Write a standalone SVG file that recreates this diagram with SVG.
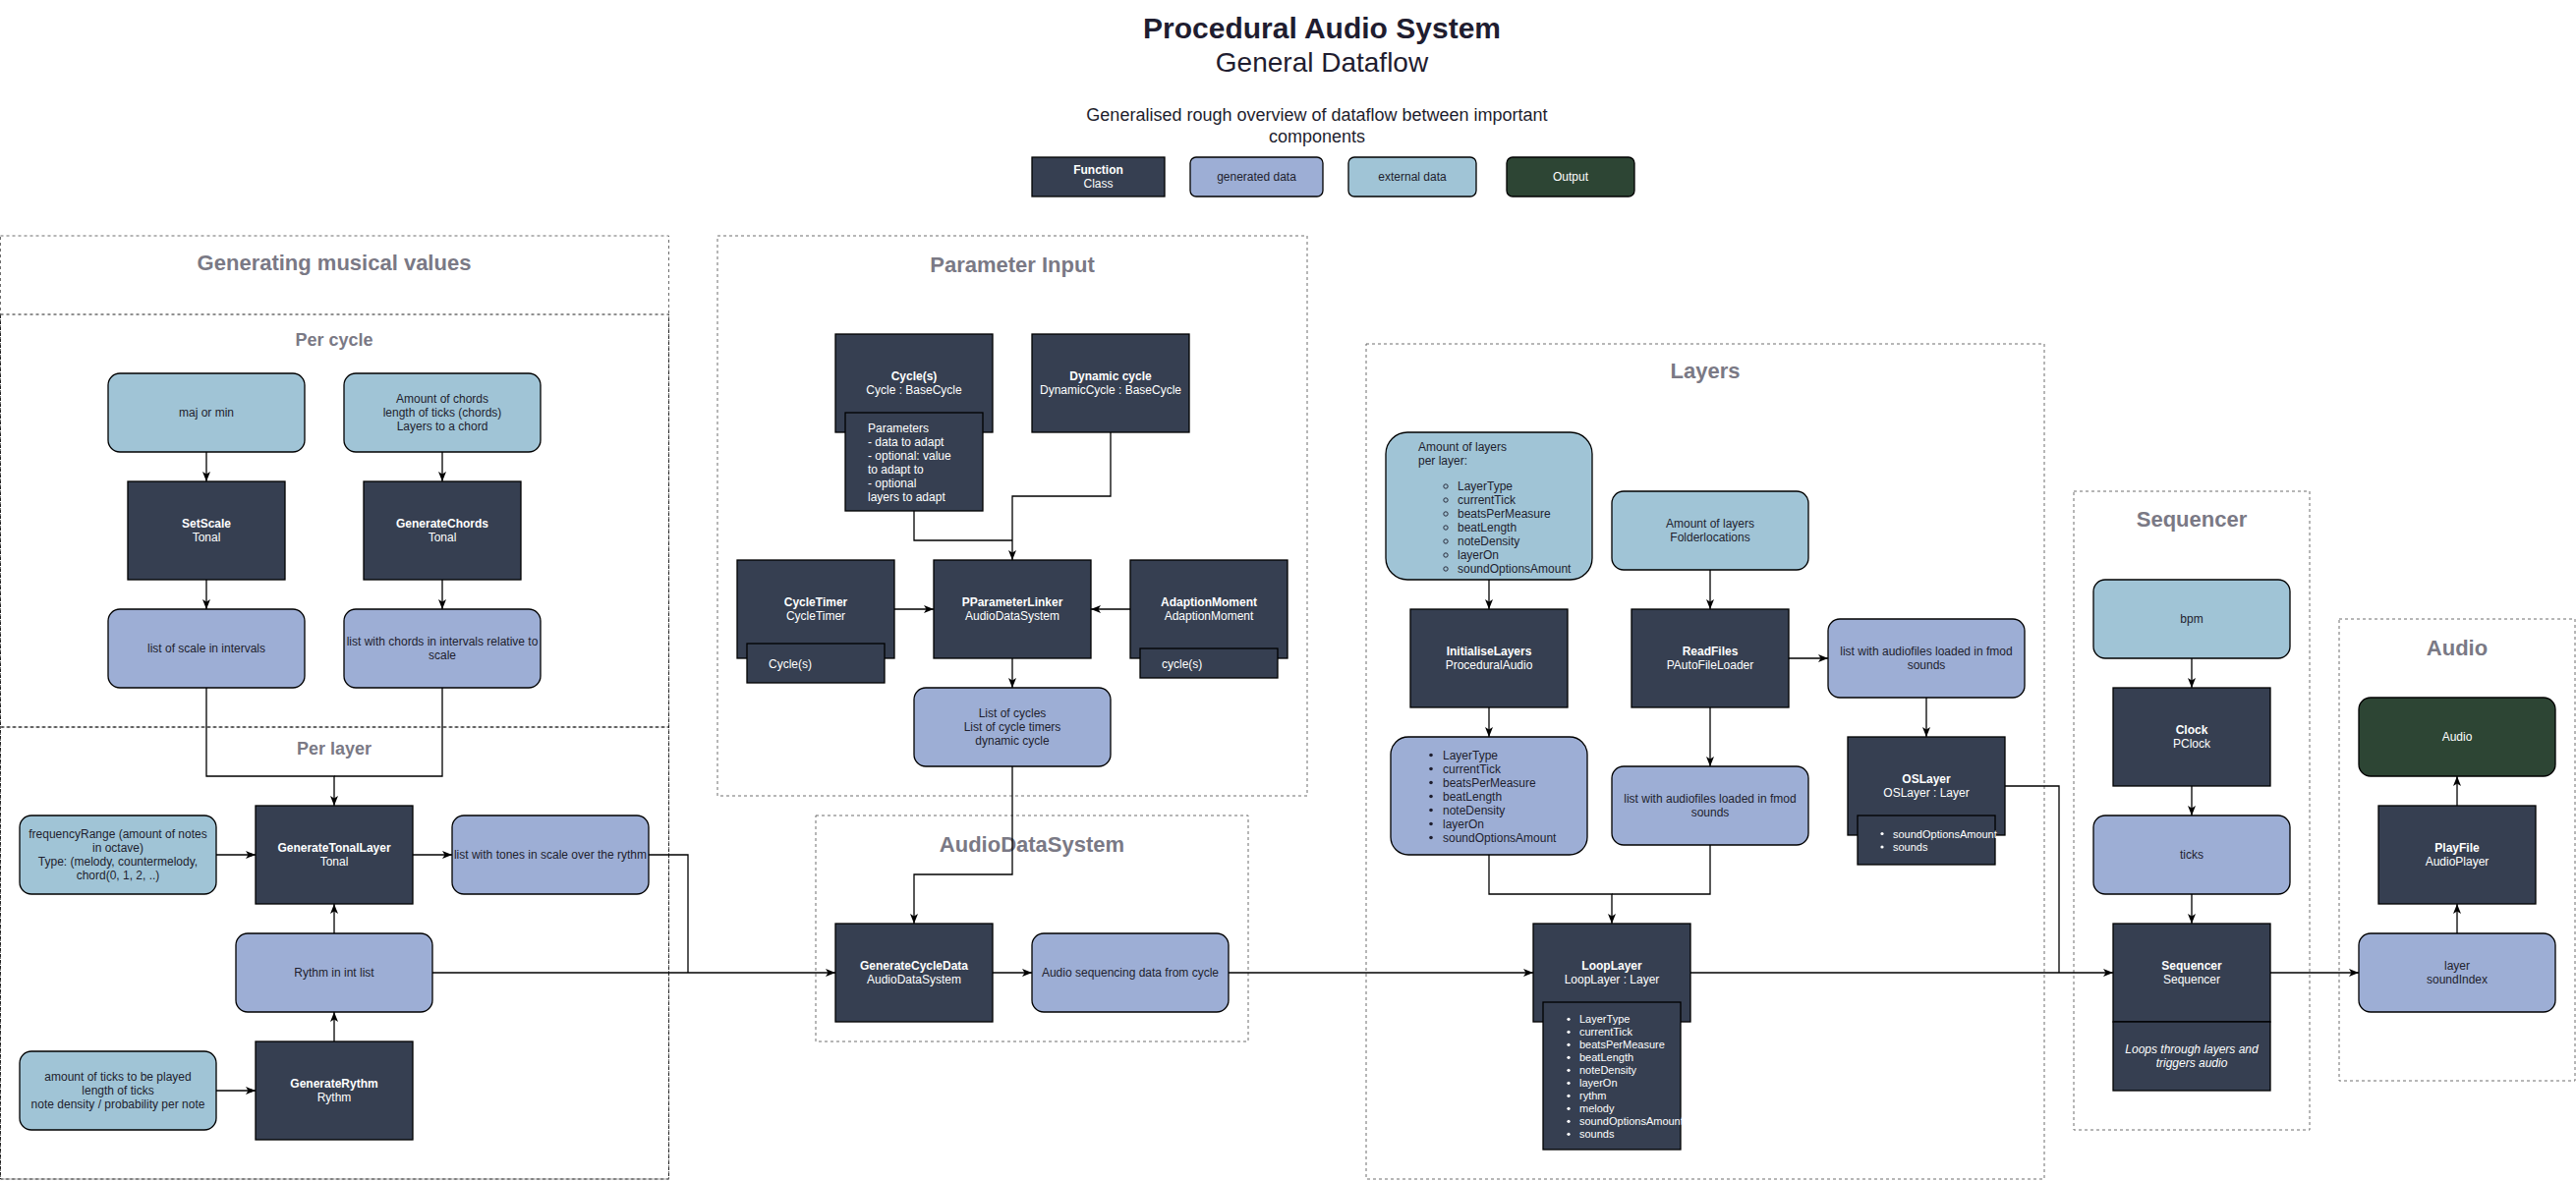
<svg xmlns="http://www.w3.org/2000/svg" width="2621" height="1202" viewBox="0 0 2621 1202">
<style>
text{font-family:"Liberation Sans",Arial,Helvetica,sans-serif;font-size:12px;fill:#1e1e2e}
.c{text-anchor:middle}
.b{font-weight:bold}
.w{fill:#fff}
.fn{fill:#363f51;stroke:#000;stroke-width:1.3}
.gen{fill:#9daed5;stroke:#000;stroke-width:1.3}
.ext{fill:#a0c4d6;stroke:#000;stroke-width:1.3}
.out{fill:#2d4534;stroke:#000;stroke-width:1.3}
.sec{fill:none;stroke:#6e6e6e;stroke-width:1;stroke-dasharray:3 3}
.sec2{fill:none;stroke:#222;stroke-width:1;stroke-dasharray:3 3}
.st{font-size:22px;font-weight:bold;fill:#7a7985;text-anchor:middle}
.st2{font-size:18px;font-weight:bold;fill:#7a7985;text-anchor:middle}
.edge{fill:none;stroke:#000;stroke-width:1.3}
.arr{marker-end:url(#ah)}
.s11{font-size:11px}
.it{font-style:italic}
</style>
<defs>
<marker id="ah" markerUnits="userSpaceOnUse" markerWidth="10" markerHeight="10" viewBox="0 0 10 10" refX="10" refY="5" orient="auto">
<path d="M0,1 L10,5 L0,9 L2.5,5 z" fill="#000"/>
</marker>
</defs>
<rect width="2621" height="1202" fill="#fff"/>

<g id="header">
<text x="1345" y="39" class="c b" style="font-size:30px;fill:#1f1d30">Procedural Audio System</text>
<text x="1345" y="73" class="c" style="font-size:28px;fill:#1f1d30">General Dataflow</text>
<text x="1340" y="123" class="c" style="font-size:18px">Generalised rough overview of dataflow between important</text>
<text x="1340" y="145" class="c" style="font-size:18px">components</text>
</g>

<g id="legend">
<g id="legend-function"><rect x="1050" y="160" width="135" height="40" class="fn"/><text x="1117.5" y="177" class="c b w">Function</text><text x="1117.5" y="191" class="c w">Class</text></g>
<g id="legend-generated"><rect x="1211" y="160" width="135" height="40" rx="6" class="gen"/><text x="1278.5" y="184" class="c">generated data</text></g>
<g id="legend-external"><rect x="1372" y="160" width="130" height="40" rx="6" class="ext"/><text x="1437" y="184" class="c">external data</text></g>
<g id="legend-output"><rect x="1533" y="160" width="130" height="40" rx="6" class="out"/><text x="1598" y="184" class="c w">Output</text></g>
</g>

<g id="sections">
<rect x="0.5" y="240" width="680" height="960" class="sec"/>
<text x="340" y="275" class="st">Generating musical values</text>
<rect x="0.5" y="320" width="680" height="420" class="sec2"/>
<text x="340" y="352" class="st2">Per cycle</text>
<rect x="0.5" y="740" width="680" height="460" class="sec2"/>
<text x="340" y="768" class="st2">Per layer</text>
<rect x="730" y="240" width="600" height="570" class="sec"/>
<text x="1030" y="277" class="st">Parameter Input</text>
<rect x="830" y="830" width="440" height="230" class="sec"/>
<text x="1050" y="867" class="st">AudioDataSystem</text>
<rect x="1390" y="350" width="690" height="850" class="sec"/>
<text x="1735" y="385" class="st">Layers</text>
<rect x="2110" y="500" width="240" height="650" class="sec"/>
<text x="2230" y="536" class="st">Sequencer</text>
<rect x="2380" y="630" width="240" height="470" class="sec"/>
<text x="2500" y="667" class="st">Audio</text>
</g>

<g id="connectors">
<path d="M210,460 V490" class="edge arr"/>
<path d="M450,460 V490" class="edge arr"/>
<path d="M210,590 V620" class="edge arr"/>
<path d="M450,590 V620" class="edge arr"/>
<path d="M450,700 V790 H340" class="edge"/>
<path d="M210,700 V790 H340 V820" class="edge arr"/>
<path d="M220,870 H260" class="edge arr"/>
<path d="M420,870 H460" class="edge arr"/>
<path d="M340,950 V920" class="edge arr"/>
<path d="M340,1060 V1030" class="edge arr"/>
<path d="M220,1110 H260" class="edge arr"/>
<path d="M660,870 H700 V990" class="edge"/>
<path d="M440,990 H850" class="edge arr"/>
<path d="M930,520 V550 H1030" class="edge"/>
<path d="M1130,440 V505 H1030 V570" class="edge arr"/>
<path d="M910,620 H950" class="edge arr"/>
<path d="M1150,620 H1110" class="edge arr"/>
<path d="M1030,670 V700" class="edge arr"/>
<path d="M1030,780 V890 H930 V940" class="edge arr"/>
<path d="M1010,990 H1050" class="edge arr"/>
<path d="M1250,990 H1560" class="edge arr"/>
<path d="M1515,590 V620" class="edge arr"/>
<path d="M1740,580 V620" class="edge arr"/>
<path d="M1820,670 H1860" class="edge arr"/>
<path d="M1960,710 V750" class="edge arr"/>
<path d="M1515,720 V750" class="edge arr"/>
<path d="M1740,720 V780" class="edge arr"/>
<path d="M1740,860 V910 H1640" class="edge"/>
<path d="M1515,870 V910 H1640 V940" class="edge arr"/>
<path d="M2040,800 H2095 V990" class="edge"/>
<path d="M1720,990 H2150" class="edge arr"/>
<path d="M2230,670 V700" class="edge arr"/>
<path d="M2230,800 V830" class="edge arr"/>
<path d="M2230,910 V940" class="edge arr"/>
<path d="M2310,990 H2400" class="edge arr"/>
<path d="M2500,950 V920" class="edge arr"/>
<path d="M2500,820 V790" class="edge arr"/>
</g>

<g id="maj-or-min"><rect x="110" y="380" width="200" height="80" rx="12" class="ext"/><text x="210" y="424" class="c">maj or min</text></g>
<g id="chord-input"><rect x="350" y="380" width="200" height="80" rx="12" class="ext"/><text x="450" y="410" class="c">Amount of chords</text><text x="450" y="424" class="c">length of ticks (chords)</text><text x="450" y="438" class="c">Layers to a chord</text></g>
<g id="setscale"><rect x="130" y="490" width="160" height="100" class="fn"/><text x="210" y="537" class="c b w">SetScale</text><text x="210" y="551" class="c w">Tonal</text></g>
<g id="generatechords"><rect x="370" y="490" width="160" height="100" class="fn"/><text x="450" y="537" class="c b w">GenerateChords</text><text x="450" y="551" class="c w">Tonal</text></g>
<g id="scale-list"><rect x="110" y="620" width="200" height="80" rx="12" class="gen"/><text x="210" y="664" class="c">list of scale in intervals</text></g>
<g id="chord-list"><rect x="350" y="620" width="200" height="80" rx="12" class="gen"/><text x="450" y="657" class="c">list with chords in intervals relative to</text><text x="450" y="671" class="c">scale</text></g>

<g id="freq-input"><rect x="20" y="830" width="200" height="80" rx="12" class="ext"/><text x="120" y="853" class="c">frequencyRange (amount of notes</text><text x="120" y="867" class="c">in octave)</text><text x="120" y="881" class="c">Type: (melody, countermelody,</text><text x="120" y="895" class="c">chord(0, 1, 2, ..)</text></g>
<g id="generatetonallayer"><rect x="260" y="820" width="160" height="100" class="fn"/><text x="340" y="867" class="c b w">GenerateTonalLayer</text><text x="340" y="881" class="c w">Tonal</text></g>
<g id="tones-list"><rect x="460" y="830" width="200" height="80" rx="12" class="gen"/><text x="560" y="874" class="c">list with tones in scale over the rythm</text></g>
<g id="rythm-list"><rect x="240" y="950" width="200" height="80" rx="12" class="gen"/><text x="340" y="994" class="c">Rythm in int list</text></g>
<g id="generaterythm"><rect x="260" y="1060" width="160" height="100" class="fn"/><text x="340" y="1107" class="c b w">GenerateRythm</text><text x="340" y="1121" class="c w">Rythm</text></g>
<g id="ticks-input"><rect x="20" y="1070" width="200" height="80" rx="12" class="ext"/><text x="120" y="1100" class="c">amount of ticks to be played</text><text x="120" y="1114" class="c">length of ticks</text><text x="120" y="1128" class="c">note density / probability per note</text></g>

<g id="cycles"><rect x="850" y="340" width="160" height="100" class="fn"/><text x="930" y="387" class="c b w">Cycle(s)</text><text x="930" y="401" class="c w">Cycle : BaseCycle</text>
<rect x="860" y="420" width="140" height="100" class="fn"/>
<text x="883" y="440" class="w">Parameters</text><text x="883" y="454" class="w">- data to adapt</text><text x="883" y="468" class="w">- optional: value</text><text x="883" y="482" class="w">to adapt to</text><text x="883" y="496" class="w">- optional</text><text x="883" y="510" class="w">layers to adapt</text></g>
<g id="dynamic-cycle"><rect x="1050" y="340" width="160" height="100" class="fn"/><text x="1130" y="387" class="c b w">Dynamic cycle</text><text x="1130" y="401" class="c w">DynamicCycle : BaseCycle</text></g>
<g id="cycletimer"><rect x="750" y="570" width="160" height="100" class="fn"/><text x="830" y="617" class="c b w">CycleTimer</text><text x="830" y="631" class="c w">CycleTimer</text>
<rect x="760" y="655" width="140" height="40" class="fn"/><text x="782" y="680" class="w">Cycle(s)</text></g>
<g id="pparameterlinker"><rect x="950" y="570" width="160" height="100" class="fn"/><text x="1030" y="617" class="c b w">PParameterLinker</text><text x="1030" y="631" class="c w">AudioDataSystem</text></g>
<g id="adaptionmoment"><rect x="1150" y="570" width="160" height="100" class="fn"/><text x="1230" y="617" class="c b w">AdaptionMoment</text><text x="1230" y="631" class="c w">AdaptionMoment</text>
<rect x="1160" y="660" width="140" height="30" class="fn"/><text x="1182" y="680" class="w">cycle(s)</text></g>
<g id="cycle-lists"><rect x="930" y="700" width="200" height="80" rx="12" class="gen"/><text x="1030" y="730" class="c">List of cycles</text><text x="1030" y="744" class="c">List of cycle timers</text><text x="1030" y="758" class="c">dynamic cycle</text></g>

<g id="generatecycledata"><rect x="850" y="940" width="160" height="100" class="fn"/><text x="930" y="987" class="c b w">GenerateCycleData</text><text x="930" y="1001" class="c w">AudioDataSystem</text></g>
<g id="sequencing-data"><rect x="1050" y="950" width="200" height="80" rx="12" class="gen"/><text x="1150" y="994" class="c">Audio sequencing data from cycle</text></g>

<g id="layer-input"><rect x="1410" y="440" width="210" height="150" rx="22" class="ext"/>
<text x="1443" y="459">Amount of layers</text><text x="1443" y="473">per layer:</text>
<g fill="none" stroke="#1e1e2e" stroke-width="0.9"><circle cx="1471" cy="495" r="2.2"/><circle cx="1471" cy="509" r="2.2"/><circle cx="1471" cy="523" r="2.2"/><circle cx="1471" cy="537" r="2.2"/><circle cx="1471" cy="551" r="2.2"/><circle cx="1471" cy="565" r="2.2"/><circle cx="1471" cy="579" r="2.2"/></g>
<text x="1483" y="499">LayerType</text><text x="1483" y="513">currentTick</text><text x="1483" y="527">beatsPerMeasure</text><text x="1483" y="541">beatLength</text><text x="1483" y="555">noteDensity</text><text x="1483" y="569">layerOn</text><text x="1483" y="583">soundOptionsAmount</text></g>
<g id="folder-input"><rect x="1640" y="500" width="200" height="80" rx="12" class="ext"/><text x="1740" y="537" class="c">Amount of layers</text><text x="1740" y="551" class="c">Folderlocations</text></g>
<g id="initialiselayers"><rect x="1435" y="620" width="160" height="100" class="fn"/><text x="1515" y="667" class="c b w">InitialiseLayers</text><text x="1515" y="681" class="c w">ProceduralAudio</text></g>
<g id="readfiles"><rect x="1660" y="620" width="160" height="100" class="fn"/><text x="1740" y="667" class="c b w">ReadFiles</text><text x="1740" y="681" class="c w">PAutoFileLoader</text></g>
<g id="audiofiles-right"><rect x="1860" y="630" width="200" height="80" rx="12" class="gen"/><text x="1960" y="667" class="c">list with audiofiles loaded in fmod</text><text x="1960" y="681" class="c">sounds</text></g>
<g id="layer-data"><rect x="1415" y="750" width="200" height="120" rx="18" class="gen"/>
<g fill="#1e1e2e"><circle cx="1456" cy="768.5" r="1.8"/><circle cx="1456" cy="782.5" r="1.8"/><circle cx="1456" cy="796.5" r="1.8"/><circle cx="1456" cy="810.5" r="1.8"/><circle cx="1456" cy="824.5" r="1.8"/><circle cx="1456" cy="838.5" r="1.8"/><circle cx="1456" cy="852.5" r="1.8"/></g>
<text x="1468" y="772.5">LayerType</text><text x="1468" y="786.5">currentTick</text><text x="1468" y="800.5">beatsPerMeasure</text><text x="1468" y="814.5">beatLength</text><text x="1468" y="828.5">noteDensity</text><text x="1468" y="842.5">layerOn</text><text x="1468" y="856.5">soundOptionsAmount</text></g>
<g id="audiofiles-center"><rect x="1640" y="780" width="200" height="80" rx="12" class="gen"/><text x="1740" y="817" class="c">list with audiofiles loaded in fmod</text><text x="1740" y="831" class="c">sounds</text></g>
<g id="oslayer"><rect x="1880" y="750" width="160" height="100" class="fn"/><text x="1960" y="797" class="c b w">OSLayer</text><text x="1960" y="811" class="c w">OSLayer : Layer</text>
<rect x="1890" y="830" width="140" height="50" class="fn"/>
<g fill="#fff"><circle cx="1915" cy="848.5" r="1.6"/><circle cx="1915" cy="862" r="1.6"/></g>
<text x="1926" y="852.5" class="w s11">soundOptionsAmount</text><text x="1926" y="866" class="w s11">sounds</text></g>
<g id="looplayer"><rect x="1560" y="940" width="160" height="100" class="fn"/><text x="1640" y="987" class="c b w">LoopLayer</text><text x="1640" y="1001" class="c w">LoopLayer : Layer</text>
<rect x="1570" y="1020" width="140" height="150" class="fn"/>
<g fill="#fff"><circle cx="1596" cy="1037.3" r="1.6"/><circle cx="1596" cy="1050.3" r="1.6"/><circle cx="1596" cy="1063.3" r="1.6"/><circle cx="1596" cy="1076.3" r="1.6"/><circle cx="1596" cy="1089.3" r="1.6"/><circle cx="1596" cy="1102.3" r="1.6"/><circle cx="1596" cy="1115.3" r="1.6"/><circle cx="1596" cy="1128.3" r="1.6"/><circle cx="1596" cy="1141.3" r="1.6"/><circle cx="1596" cy="1154.3" r="1.6"/></g>
<text x="1607" y="1041.2" class="w s11">LayerType</text><text x="1607" y="1054.2" class="w s11">currentTick</text><text x="1607" y="1067.2" class="w s11">beatsPerMeasure</text><text x="1607" y="1080.2" class="w s11">beatLength</text><text x="1607" y="1093.2" class="w s11">noteDensity</text><text x="1607" y="1106.2" class="w s11">layerOn</text><text x="1607" y="1119.2" class="w s11">rythm</text><text x="1607" y="1132.2" class="w s11">melody</text><text x="1607" y="1145.2" class="w s11">soundOptionsAmount</text><text x="1607" y="1158.2" class="w s11">sounds</text></g>

<g id="bpm"><rect x="2130" y="590" width="200" height="80" rx="12" class="ext"/><text x="2230" y="634" class="c">bpm</text></g>
<g id="clock"><rect x="2150" y="700" width="160" height="100" class="fn"/><text x="2230" y="747" class="c b w">Clock</text><text x="2230" y="761" class="c w">PClock</text></g>
<g id="ticks"><rect x="2130" y="830" width="200" height="80" rx="12" class="gen"/><text x="2230" y="874" class="c">ticks</text></g>
<g id="sequencer"><rect x="2150" y="940" width="160" height="100" class="fn"/><text x="2230" y="987" class="c b w">Sequencer</text><text x="2230" y="1001" class="c w">Sequencer</text>
<rect x="2150" y="1040" width="160" height="70" class="fn"/><text x="2230" y="1072" class="c w it">Loops through layers and</text><text x="2230" y="1086" class="c w it">triggers audio</text></g>

<g id="audio-output"><rect x="2400" y="710" width="200" height="80" rx="12" class="out"/><text x="2500" y="754" class="c w">Audio</text></g>
<g id="playfile"><rect x="2420" y="820" width="160" height="100" class="fn"/><text x="2500" y="867" class="c b w">PlayFile</text><text x="2500" y="881" class="c w">AudioPlayer</text></g>
<g id="sound-index"><rect x="2400" y="950" width="200" height="80" rx="12" class="gen"/><text x="2500" y="987" class="c">layer</text><text x="2500" y="1001" class="c">soundIndex</text></g>
</svg>
